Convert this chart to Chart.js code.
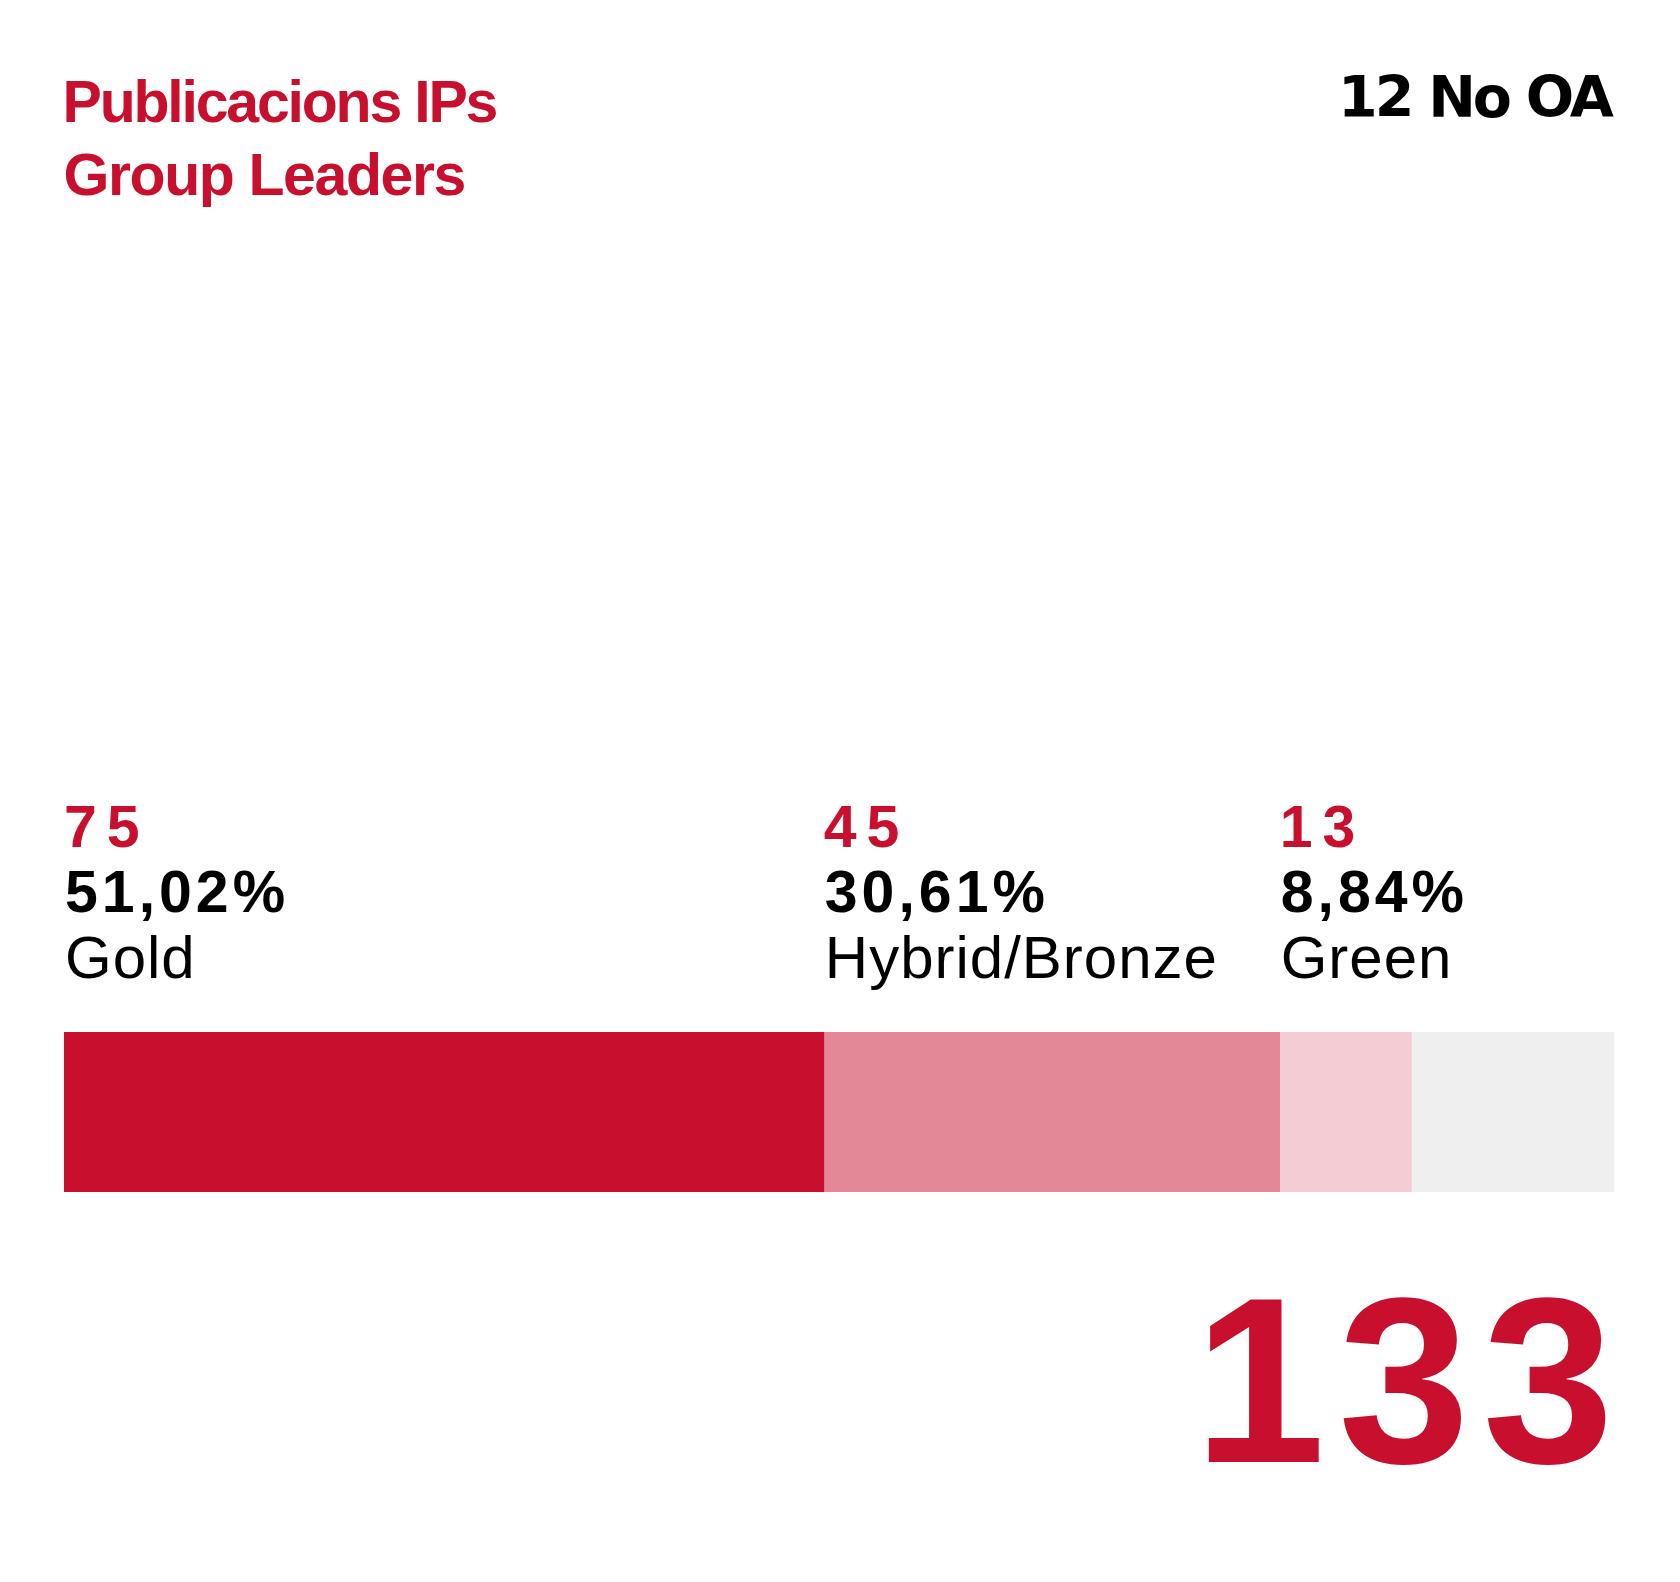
<!DOCTYPE html>
<html>
<head>
<meta charset="utf-8">
<script src="https://cdn.jsdelivr.net/npm/chart.js@4.4.1/dist/chart.umd.min.js"></script>
<style>
  html, body { margin: 0; padding: 0; background: #fff; }
  #oaChart { display: block; }
</style>
</head>
<body>
<canvas id="oaChart" width="1680" height="1582"></canvas>
<script>
  // values
  const categories = ["Gold", "Hybrid/Bronze", "Green", "No OA"]
  const counts = [75, 45, 13]
  const percents = ["51,02%", "30,61%", "8,84%"]
  const barValues = [75, 45, 13, 20]
  const noOA = 12
  const total = 133
  const titleLines = ["Publicacions IPs", "Group Leaders"]

  const red = "#C8102E"
  const colors = ["#C8102E", "#E28896", "#F3CDD3", "#EFEFEF"]
  const sans = "'Liberation Sans', Arial, sans-serif"
  const display = "'DejaVu Sans', sans-serif"

  const textPlugin = {
    id: "oaText",
    afterDraw(chart) {
      const ctx = chart.ctx
      const x = chart.scales.x
      ctx.save()
      ctx.textBaseline = "alphabetic"
      ctx.textAlign = "left"

      // title
      ctx.fillStyle = red
      ctx.font = "bold 59px " + sans
      ctx.letterSpacing = "-2.2px"
      ctx.fillText(titleLines[0], 62.5, 122)
      ctx.letterSpacing = "-1.4px"
      ctx.fillText(titleLines[1], 63.5, 195)

      // no OA count, top right
      ctx.fillStyle = "#000"
      ctx.font = "bold 57px " + display
      ctx.letterSpacing = "-3px"
      ctx.fillText(noOA + " No OA", 1338, 117)

      // labels above each segment
      let start = 0
      counts.forEach((c, i) => {
        const px = x.getPixelForValue(start)
        ctx.font = "bold 59px " + sans
        ctx.fillStyle = red
        ctx.letterSpacing = "10px"
        ctx.fillText(String(c), px, 847)
        ctx.fillStyle = "#000"
        ctx.letterSpacing = "4px"
        ctx.fillText(percents[i], px + 1, 912)
        ctx.letterSpacing = "1px"
        ctx.font = "60px " + sans
        ctx.fillText(categories[i], px + 1, 978)
        start += barValues[i]
      })

      // total
      ctx.fillStyle = red
      ctx.font = "bold 236px " + sans
      ctx.letterSpacing = "13px"
      ctx.fillText(String(total), 1194, 1462)
      ctx.restore()
    },
  }

  new Chart(document.getElementById("oaChart"), {
    type: "bar",
    data: {
      labels: [""],
      datasets: categories.map((cat, i) => ({
        label: cat,
        data: [barValues[i]],
        backgroundColor: colors[i],
        borderWidth: 0,
        barPercentage: 1,
        categoryPercentage: 1,
      })),
    },
    options: {
      indexAxis: "y",
      responsive: false,
      devicePixelRatio: 1,
      animation: false,
      layout: {
        padding: { left: 64, right: 66, top: 1032, bottom: 390 },
      },
      scales: {
        x: {
          stacked: true,
          min: 0,
          max: barValues.reduce((a, b) => a + b, 0),
          display: false,
        },
        y: { stacked: true, display: false },
      },
      plugins: {
        legend: { display: false },
        tooltip: { enabled: false },
        title: { display: false },
      },
    },
    plugins: [textPlugin],
  })
</script>
</body>
</html>
